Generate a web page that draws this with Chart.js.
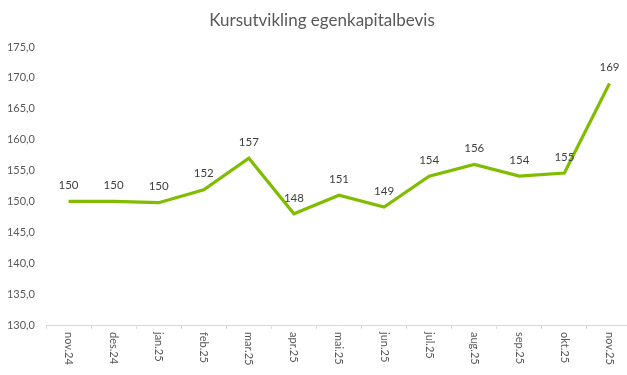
<!DOCTYPE html>
<html>
<head>
<meta charset="utf-8">
<script src="https://cdn.jsdelivr.net/npm/chart.js@4/dist/chart.umd.min.js"></script>
<style>
  html, body { margin: 0; padding: 0; background: #fff; overflow: hidden; }
  /* the original plot runs a few pixels past the right edge of the picture */
  #wrap { width: 632px; height: 375px; }
</style>
</head>
<body>
<div id="wrap"><canvas id="kurs"></canvas></div>
<script>
"use strict";

// data
var tittel = "Kursutvikling egenkapitalbevis";
var maaneder = ["nov.24", "des.24", "jan.25", "feb.25", "mar.25", "apr.25", "mai.25",
                "jun.25", "jul.25", "aug.25", "sep.25", "okt.25", "nov.25"];
var kurs = [150.0, 150.0, 149.8, 151.9, 157.0, 148.0, 151.0, 149.1, 154.1, 156.0, 154.1, 154.6, 169.1];
var yMin = 130;
var yMax = 175;
var yStep = 5;

var tekstFarge = '#595959';
var linjeFarge = '#80bc00';
var fontNavn = 'Lato, "Open Sans", sans-serif';

// title sits a bit right of the canvas centre in the original
var tittelTegner = {
    id: 'tittelTegner',
    afterDraw: function (chart) {
        var ctx = chart.ctx;
        ctx.save();
        ctx.fillStyle = tekstFarge;
        ctx.font = '17px ' + fontNavn;
        ctx.textAlign = 'center';
        ctx.textBaseline = 'middle';
        ctx.fillText(tittel, 322, 21);
        ctx.restore();
    }
};

// x labels in the picture read top-to-bottom, so draw them ourselves
var roterteEtiketter = {
    id: 'roterteEtiketter',
    afterDraw: function (chart) {
        var ctx = chart.ctx;
        var x = chart.scales.x;
        ctx.save();
        ctx.fillStyle = tekstFarge;
        ctx.font = '11px ' + fontNavn;
        ctx.textAlign = 'left';
        ctx.textBaseline = 'middle';
        for (var i = 0; i < maaneder.length; i++) {
            ctx.save();
            ctx.translate(x.getPixelForValue(i), x.top + 7);
            ctx.rotate(Math.PI / 2);
            ctx.fillText(maaneder[i], 0, 0);
            ctx.restore();
        }
        ctx.restore();
    }
};

// value labels above every point
var verdiEtiketter = {
    id: 'verdiEtiketter',
    afterDatasetsDraw: function (chart) {
        var ctx = chart.ctx;
        var meta = chart.getDatasetMeta(0);
        ctx.save();
        ctx.fillStyle = '#404040';
        ctx.font = '11.5px ' + fontNavn;
        ctx.textAlign = 'center';
        ctx.textBaseline = 'middle';
        meta.data.forEach(function (p, i) {
            ctx.fillText(Math.round(kurs[i]), p.x, p.y - 16);
        });
        ctx.restore();
    }
};

new Chart(document.getElementById("kurs").getContext("2d"), {
    type: 'line',
    data: {
        labels: maaneder,
        datasets: [{
            label: "Kurs",
            data: kurs,
            borderColor: linjeFarge,
            borderWidth: 3.2,
            pointRadius: 0,
            pointHoverRadius: 0,
            fill: false,
            tension: 0
        }]
    },
    options: {
        responsive: true,
        maintainAspectRatio: false,
        animation: false,
        events: [],
        layout: { padding: { left: 0, right: 0, top: 47, bottom: 0 } },
        plugins: {
            legend: { display: false },
            tooltip: { enabled: false },
            title: { display: false }
        },
        scales: {
            x: {
                offset: true,
                grid: {
                    offset: true,
                    drawOnChartArea: false,
                    drawTicks: true,
                    tickLength: 4,
                    color: '#d9d9d9'
                },
                border: { color: '#d9d9d9', width: 1 },
                ticks: { display: false },
                afterFit: function (s) { s.height = 50; }
            },
            y: {
                min: yMin,
                max: yMax,
                grid: { display: false, drawTicks: false },
                border: { display: false },
                ticks: {
                    stepSize: yStep,
                    padding: 11,
                    color: tekstFarge,
                    font: { family: fontNavn, size: 11 },
                    callback: function (v) { return v.toFixed(1).replace('.', ','); }
                },
                afterFit: function (s) { s.width = 46; }
            }
        }
    },
    plugins: [tittelTegner, roterteEtiketter, verdiEtiketter]
});
</script>
</body>
</html>
